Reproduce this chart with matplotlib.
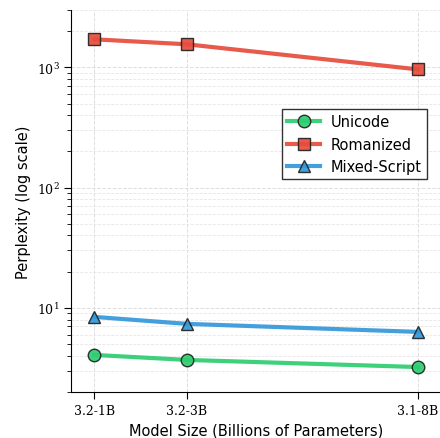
import matplotlib
matplotlib.use("Agg")
import matplotlib.pyplot as plt

model_sizes = [1, 3, 8]
tick_labels = ["3.2-1B", "3.2-3B", "3.1-8B"]
unicode_ppl = [4.06, 3.69, 3.22]
romanized_ppl = [1711, 1555, 962]
mixed_ppl = [8.41, 7.36, 6.31]

plt.rcParams['mathtext.fontset'] = 'dejavuserif'

fig = plt.figure(figsize=(4.4, 4.39), dpi=100)
ax = fig.add_axes([0.162, 0.105, 0.84, 0.87])

ax.plot(model_sizes, unicode_ppl, color='#2ecc71', lw=3, marker='o', ms=9,
        mec='#222222', mew=1, label='Unicode', alpha=0.92)
ax.plot(model_sizes, romanized_ppl, color='#e74c3c', lw=3, marker='s', ms=9,
        mec='#222222', mew=1, label='Romanized', alpha=0.92)
ax.plot(model_sizes, mixed_ppl, color='#3498db', lw=3, marker='^', ms=9,
        mec='#222222', mew=1, label='Mixed-Script', alpha=0.92)

ax.set_yscale('log')
ax.set_ylim(2, 3000)
ax.set_xlim(0.5, 8.5)
ax.set_xticks(model_sizes)
ax.set_xticklabels(tick_labels, fontfamily='DejaVu Serif', fontsize=9)
for t in ax.get_yticklabels():
    t.set_fontfamily('DejaVu Serif')
ax.tick_params(axis='both', which='major', length=5, labelsize=9)
ax.tick_params(axis='y', which='minor', length=3)

ax.set_xlabel('Model Size (Billions of Parameters)', fontsize=10.5)
ax.set_ylabel('Perplexity (log scale)', fontsize=10.5)

ax.grid(True, which='major', ls='--', color='#dddddd', lw=0.7)
ax.grid(True, which='minor', axis='y', ls='--', color='#e6e6e6', lw=0.6)
ax.spines['top'].set_visible(False)
ax.spines['right'].set_visible(False)

leg = ax.legend(loc='upper right', bbox_to_anchor=(0.970, 0.749),
                bbox_transform=fig.transFigure, borderaxespad=0,
                fontsize=10.5, fancybox=False, edgecolor='#333333',
                framealpha=1, handlelength=2.3, handletextpad=0.7,
                borderpad=0.36, labelspacing=0.5)
leg.get_frame().set_linewidth(1)

fig.savefig('out.png', dpi=100)
